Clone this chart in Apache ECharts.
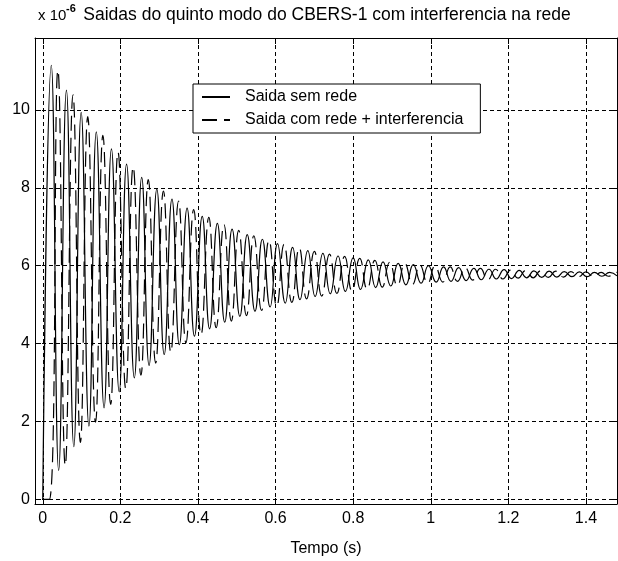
<!DOCTYPE html>
<html><head><meta charset="utf-8">
<script src="https://cdn.jsdelivr.net/npm/echarts@6/dist/echarts.min.js"></script>
<style>html,body{margin:0;padding:0;background:#fff}#c{width:618px;height:561px}</style>
</head><body><div id="c"></div>
<script>
const titleText = 'Saidas do quinto modo do CBERS-1 com interferencia na rede';
const exponentBase = 'x 10';
const exponentPower = '-6';
const xAxisName = 'Tempo (s)';
const seriesNames = ['Saida sem rede', 'Saida com rede + interferencia'];
const xTicks = [0, 0.2, 0.4, 0.6, 0.8, 1, 1.2, 1.4];
const yTicks = [0, 2, 4, 6, 8, 10];

// Saida sem rede: extrema (time s, value x1e-6)
const solidTime = [0, 0.022, 0.041, 0.061, 0.080, 0.099, 0.119, 0.138, 0.158, 0.177, 0.197,
  0.216, 0.236, 0.255, 0.274, 0.294, 0.313, 0.333, 0.352, 0.372, 0.391,
  0.411, 0.430, 0.450, 0.469, 0.488, 0.508, 0.527, 0.547, 0.566, 0.586,
  0.605, 0.625, 0.644, 0.663, 0.683, 0.702, 0.722, 0.741, 0.761, 0.780,
  0.800, 0.819, 0.839, 0.858, 0.877, 0.897, 0.916, 0.936, 0.955, 0.975,
  0.994, 1.014, 1.033, 1.052, 1.072, 1.091, 1.111, 1.130, 1.150, 1.169,
  1.189, 1.208, 1.228, 1.247, 1.266, 1.286, 1.305, 1.325, 1.344, 1.364,
  1.383, 1.403, 1.422, 1.441, 1.461, 1.480];
const solidValue = [0, 11.15, 0.74, 10.51, 1.35, 9.94, 1.88, 9.44, 2.35, 9.00, 2.76,
  8.61, 3.12, 8.27, 3.44, 7.97, 3.72, 7.71, 3.97, 7.48, 4.19,
  7.27, 4.38, 7.09, 4.55, 6.94, 4.70, 6.80, 4.83, 6.68, 4.94,
  6.57, 5.04, 6.47, 5.13, 6.39, 5.21, 6.32, 5.28, 6.25, 5.34,
  6.20, 5.39, 6.15, 5.44, 6.10, 5.48, 6.06, 5.51, 6.03, 5.55,
  6.00, 5.58, 5.97, 5.60, 5.95, 5.62, 5.93, 5.64, 5.91, 5.66,
  5.90, 5.67, 5.88, 5.69, 5.87, 5.70, 5.86, 5.71, 5.85, 5.72,
  5.84, 5.72, 5.83, 5.73, 5.83, 5.74];

// Saida com rede + interferencia
const dashTime = [0, 0.017, 0.039, 0.058, 0.078, 0.097, 0.116, 0.136, 0.155, 0.175, 0.194, 0.214,
  0.233, 0.253, 0.272, 0.291, 0.311, 0.330, 0.350, 0.369, 0.389, 0.408,
  0.428, 0.447, 0.467, 0.486, 0.505, 0.525, 0.544, 0.564, 0.583, 0.603,
  0.622, 0.642, 0.661, 0.680, 0.700, 0.719, 0.739, 0.758, 0.778, 0.797,
  0.817, 0.836, 0.856, 0.875, 0.894, 0.914, 0.933, 0.953, 0.972, 0.992,
  1.011, 1.031, 1.050, 1.069, 1.089, 1.108, 1.128, 1.147, 1.167, 1.186,
  1.206, 1.225, 1.245, 1.264, 1.283, 1.303, 1.322, 1.342, 1.361, 1.381,
  1.400, 1.420, 1.439, 1.458, 1.478, 1.497];
const dashValue = [0, 0, 11.02, 0.87, 10.39, 1.46, 9.83, 1.98, 9.35, 2.44, 8.92, 2.84,
  8.54, 3.19, 8.21, 3.50, 7.92, 3.78, 7.66, 4.02, 7.44, 4.23,
  7.24, 4.41, 7.06, 4.58, 6.91, 4.72, 6.77, 4.85, 6.65, 4.96,
  6.55, 5.06, 6.46, 5.15, 6.37, 5.22, 6.30, 5.29, 6.24, 5.35,
  6.19, 5.40, 6.14, 5.45, 6.09, 5.49, 6.06, 5.52, 6.02, 5.55,
  5.99, 5.58, 5.97, 5.60, 5.95, 5.63, 5.93, 5.64, 5.91, 5.66,
  5.89, 5.68, 5.88, 5.69, 5.87, 5.70, 5.86, 5.71, 5.85, 5.72,
  5.84, 5.72, 5.83, 5.73, 5.83, 5.74];

const FONT = '"Liberation Sans", Arial, Helvetica, sans-serif';
const X_MIN = -0.02, X_MAX = 1.48, Y_MIN = -0.12, Y_MAX = 11.85;

const pairs = (t, v) => t.map((x, i) => [x, v[i]]);

const chart = echarts.init(document.getElementById('c'), null, {renderer: 'canvas'});

const axisLineStyle = {show: true, onZero: false, lineStyle: {color: '#000', width: 1}};
const tickStyle = (vals) => ({show: true, inside: true, length: 6, customValues: vals, lineStyle: {color: '#000', width: 1}});

chart.setOption({
  animation: false,
  backgroundColor: '#fff',
  textStyle: {fontFamily: FONT},
  title: [
    {text: titleText, left: 327, textAlign: 'center', top: 6, padding: 0,
     textStyle: {fontFamily: FONT, fontSize: 17.5, fontWeight: 'normal', color: '#000'}},
    {text: exponentBase, left: 38, top: 8, padding: 0,
     textStyle: {fontFamily: FONT, fontSize: 15, fontWeight: 'normal', color: '#000'}},
    {text: exponentPower, left: 66, top: 3, padding: 0,
     textStyle: {fontFamily: FONT, fontSize: 11, fontWeight: 'bold', color: '#000'}}
  ],
  legend: {
    orient: 'vertical', left: 193, top: 84,
    padding: [5, 17, 5, 8], itemGap: 7, itemWidth: 28, itemHeight: 14,
    borderColor: '#000', borderWidth: 1, borderRadius: 0, backgroundColor: '#fff',
    itemStyle: {opacity: 0, color: 'rgba(0,0,0,0)', borderWidth: 0},
    textStyle: {fontFamily: FONT, fontSize: 16, color: '#000', padding: [0, 0, 0, 10]},
    data: seriesNames
  },
  grid: {left: 35, right: 1, top: 38, bottom: 57, containLabel: false, outerBoundsMode: 'none',
         show: true, backgroundColor: '#fff', borderWidth: 0},
  xAxis: [
    {
      type: 'value', position: 'bottom', min: X_MIN, max: X_MAX,
      name: xAxisName, nameLocation: 'middle', nameGap: 37,
      nameTextStyle: {fontFamily: FONT, fontSize: 16, color: '#000'},
      axisLine: axisLineStyle,
      axisTick: tickStyle(xTicks),
      axisLabel: {show: true, customValues: xTicks, margin: 7, fontFamily: FONT, fontSize: 16, color: '#000',
        showMinLabel: true, showMaxLabel: true, hideOverlap: false},
      splitLine: {show: true, lineStyle: {color: '#000', width: 1, type: [4, 3]}}
    },
    {
      type: 'value', position: 'top', min: X_MIN, max: X_MAX,
      axisLine: axisLineStyle,
      axisTick: tickStyle(xTicks),
      axisLabel: {show: false, customValues: xTicks},
      splitLine: {show: false}
    }
  ],
  yAxis: [
    {
      type: 'value', position: 'left', min: Y_MIN, max: Y_MAX,
      axisLine: axisLineStyle,
      axisTick: tickStyle(yTicks),
      axisLabel: {show: true, customValues: yTicks, margin: 5, fontFamily: FONT, fontSize: 16, color: '#000',
        showMinLabel: true, showMaxLabel: true, hideOverlap: false},
      splitLine: {show: true, lineStyle: {color: '#000', width: 1, type: [4, 3]}}
    },
    {
      type: 'value', position: 'right', min: Y_MIN, max: Y_MAX,
      axisLine: axisLineStyle,
      axisTick: tickStyle(yTicks),
      axisLabel: {show: false, customValues: yTicks},
      splitLine: {show: false}
    }
  ],
  series: [
    {name: seriesNames[0], type: 'line', xAxisIndex: 0, yAxisIndex: 0,
     data: pairs(solidTime, solidValue), showSymbol: false, symbol: 'none', smooth: 0.5,
     lineStyle: {color: '#000', width: 1.2, type: 'solid'}, itemStyle: {color: '#000'}, z: 3},
    {name: seriesNames[1], type: 'line', xAxisIndex: 0, yAxisIndex: 0,
     data: pairs(dashTime, dashValue), showSymbol: false, symbol: 'none', smooth: 0.5,
     lineStyle: {color: '#000', width: 1.2, type: [15, 7]}, itemStyle: {color: '#000'}, z: 3}
  ]
});
</script></body></html>
